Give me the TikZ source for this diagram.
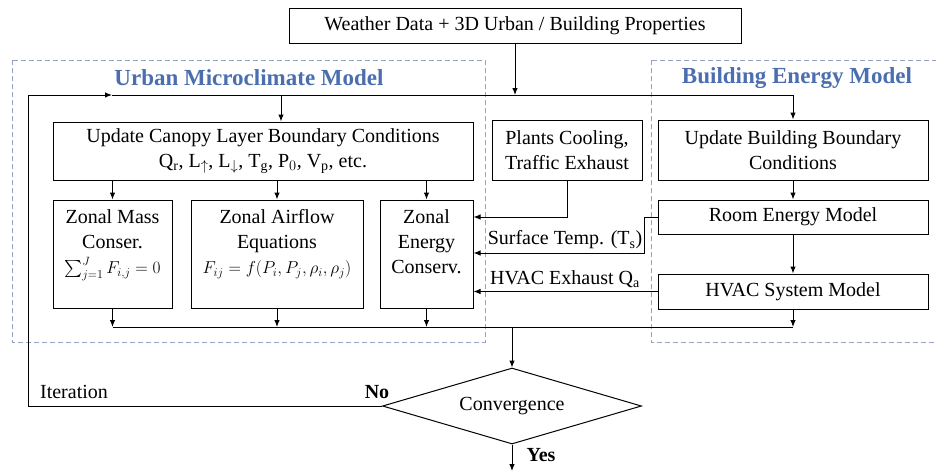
\documentclass[tikz,border=0pt]{standalone}
\usepackage{amsmath, amssymb}
\usepackage{fontspec}
\setmainfont{Liberation Serif}
\usepackage{xcolor}
\usetikzlibrary{arrows.meta,positioning,shapes.geometric}
\definecolor{zoneline}{RGB}{150,160,195}
\definecolor{zonetitle}{RGB}{75,110,175}
\newcommand{\eqsize}{\fontsize{17}{20}\selectfont}

\begin{document}
\begin{tikzpicture}[
  x=1pt, y=-1pt,
  >={Latex[length=7pt,width=5.5pt]},
  every node/.style={font=\fontsize{20}{25}\selectfont},
  box/.style={draw, rectangle, line width=1pt, align=center, inner sep=2pt},
  zone/.style={draw=zoneline, dash pattern=on 5pt off 3pt, line width=1pt},
  ztitle/.style={draw=none, font=\fontsize{23}{27}\selectfont\bfseries, text=zonetitle},
  flow/.style={->, line width=1pt}
]
\useasboundingbox (0,0) rectangle (936,472);

% model zones
\draw[zone] (12,60) rectangle (485,342);
\draw[zone] (651,60) rectangle (940,342);
\node[ztitle] (umtitle) at (249,78) {Urban Microclimate Model};
\node[ztitle] (bemtitle) at (797,78) {Building Energy Model};

\node[box, minimum width=452pt, minimum height=35pt] (input) at (515,25.5)
{Weather Data + 3D Urban / Building Properties};

\node[box, minimum width=420pt, minimum height=58pt] (canopy) at (263,151)
{Update Canopy Layer Boundary Conditions\\
Q$_\mathrm{r}$, L$_\uparrow$, L$_\downarrow$, T$_\mathrm{g}$, P$_0$, V$_\mathrm{p}$, etc.};

\node[box, minimum width=150pt, minimum height=60pt] (plants) at (567,150)
{Plants Cooling,\\Traffic Exhaust};

\node[box, minimum width=270pt, minimum height=60pt] (bldbc) at (793,150)
{Update Building Boundary\\Conditions};

\node[box, minimum width=119pt, minimum height=108pt] (zmass) at (112.5,254)
{Zonal Mass\\Conser.\\{\eqsize$\sum_{j=1}^{J} F_{i,j}=0$}\\\mbox{}};

\node[box, minimum width=172pt, minimum height=108pt] (zair) at (277,254)
{Zonal Airflow\\Equations\\{\eqsize$F_{ij}=f(P_i, P_j, \rho_i, \rho_j)$}\\\mbox{}};

\node[box, minimum width=93pt, minimum height=108pt] (zener) at (426.5,254)
{Zonal\\Energy\\Conserv.\\\mbox{}};

\node[box, minimum width=270pt, minimum height=34pt] (room) at (793,217)
{Room Energy Model};

\node[box, minimum width=270pt, minimum height=35pt] (hvac) at (793,291.5)
{HVAC System Model};

\node[draw, diamond, aspect=3.4, line width=1pt, inner sep=0pt,
  minimum width=259pt, minimum height=76pt] (conv) at (512,406) {Convergence};

% junction points
\coordinate (loop) at (28,95);
\coordinate (feed) at (281,95);
\coordinate (bus) at (512,327);
\coordinate (done) at (512,471);

% iteration loop
\draw[flow] (conv.west) -| (loop) -- (112,95);
\draw[flow] (112,95) -| (bldbc.north);
\draw[flow] (input.south) -- (input.south |- loop);
\draw[flow] (feed) -- (feed |- canopy.north);

\draw[flow] (zmass.north |- canopy.south) -- (zmass.north);
\draw[flow] (zair.north |- canopy.south) -- (zair.north);
\draw[flow] (zener.north |- canopy.south) -- (zener.north);

\draw[flow] (zmass.south) -- (zmass.south |- bus);
\draw[flow] (zair.south) -- (zair.south |- bus);
\draw[flow] (zener.south) -- (zener.south |- bus);
\draw[line width=1pt] (zmass.south |- bus) -- (hvac.south |- bus);
\draw[flow] (hvac.south) -- (hvac.south |- bus);
\draw[flow] (bus) -- (conv.north);
\draw[flow] (conv.south) -- (done);

% building side
\draw[flow] (bldbc.south) -- (room.north);
\draw[flow] (room.south) -- (hvac.north);

% exchange between models
\draw[flow] (plants.south) |- ([yshift=37pt]zener.east);
\draw[flow] (room.west) -- ++(-13,0) |- ([yshift=1pt]zener.east);
\draw[flow] (hvac.west) -- ([yshift=-37.5pt]zener.east);

\node (tslabel) at (565,240) {Surface Temp. (T$_\mathrm{s}$)};
\node (qalabel) at (565,279) {HVAC Exhaust Q$_\mathrm{a}$};
\node (iterlabel) at (74,392) {Iteration};
\node[font=\fontsize{20}{25}\selectfont\bfseries] (nolabel) at (377,392) {No};
\node[font=\fontsize{20}{25}\selectfont\bfseries] (yeslabel) at (541,455) {Yes};

\end{tikzpicture}
\end{document}
